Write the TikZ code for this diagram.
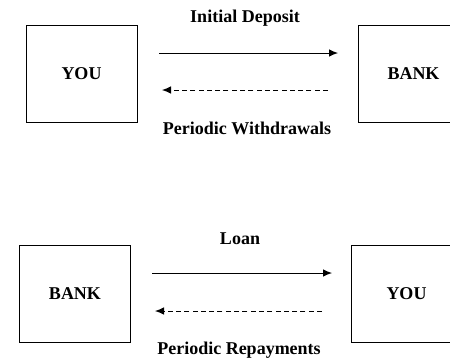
\documentclass[tikz,border=0pt]{standalone}
\usepackage{fontspec}
\setmainfont{Liberation Serif}
\usetikzlibrary{arrows.meta}
\begin{document}
\begin{tikzpicture}[x=1pt,y=-1pt,
  party/.style={draw=black, line width=0.9pt, minimum width=111pt, minimum height=97pt, inner sep=0pt, font=\fontsize{18}{20}\selectfont\bfseries},
  lbl/.style={font=\fontsize{18}{20}\selectfont\bfseries, inner sep=0pt},
  flow/.style={line width=0.9pt, -{Latex[length=9pt,width=7.5pt]}},
  back/.style={flow, dash pattern=on 5pt off 3.3pt}]
\clip (0,0) rectangle (450,360);
\fill[white] (0,0) rectangle (450,360);
% top
\node[party] (you1) at (81.5,73.5) {YOU};
\node[party] (bank1) at (413.5,73.5) {BANK};
\coordinate (a1s) at (159,53);
\coordinate (a1e) at (338,53);
\coordinate (b1s) at (328,90);
\coordinate (b1e) at (162,90);
\draw[flow] (a1s) -- (a1e);
\draw[back] (b1s) -- (b1e);
\node[lbl] (dep) at (245,18) {Initial Deposit};
\node[lbl] (wd) at (247,128) {Periodic Withdrawals};
% bottom
\node[party] (bank2) at (75,293.5) {BANK};
\node[party] (you2) at (406.5,293.5) {YOU};
\coordinate (a2s) at (152,273);
\coordinate (a2e) at (332,273);
\coordinate (b2s) at (322,311);
\coordinate (b2e) at (155,311);
\draw[flow] (a2s) -- (a2e);
\draw[back] (b2s) -- (b2e);
\node[lbl] (loan) at (240,239) {Loan};
\node[lbl] (rep) at (239,350) {Periodic Repayments};
\end{tikzpicture}
\end{document}
